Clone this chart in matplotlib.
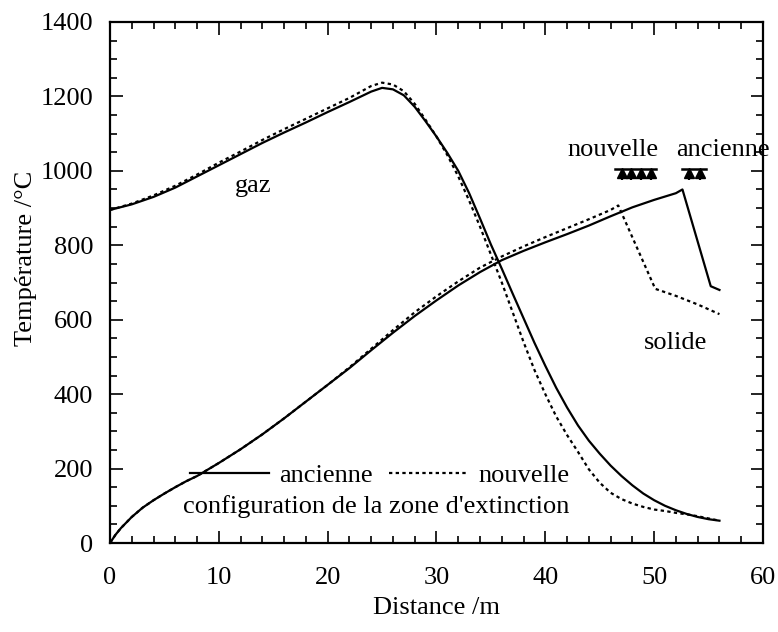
import matplotlib
matplotlib.use("Agg")
import matplotlib.pyplot as plt
from matplotlib.ticker import MultipleLocator

plt.rcParams['font.family'] = ['Liberation Serif', 'DejaVu Serif']

# gas temperature, old configuration (solid)
gas_old_x = [0, 2, 4, 6, 8, 10, 12, 14, 16, 18, 20, 22, 23, 24, 25, 26, 27, 28, 29, 30,
             31, 32, 33, 34, 35, 36, 37, 38, 39, 40, 41, 42, 43, 44, 45, 46, 47, 48,
             49, 50, 51, 52, 53, 54, 55, 56]
gas_old_y = [895, 910, 930, 955, 985, 1015, 1045, 1075, 1103, 1130, 1158, 1185, 1199,
             1213, 1223, 1219, 1203, 1172, 1133, 1092, 1048, 1000, 940, 872, 802, 737,
             670, 604, 538, 476, 417, 364, 316, 275, 240, 208, 180, 155, 133, 115, 100,
             88, 78, 70, 64, 60]

# gas temperature, new configuration (dotted)
gas_new_x = [0, 2, 4, 6, 8, 10, 12, 14, 16, 18, 20, 22, 23, 24, 25, 26, 27, 28, 29, 30,
             31, 32, 33, 34, 35, 36, 37, 38, 39, 40, 41, 42, 43, 44, 45, 46, 47, 48,
             49, 50, 51, 52, 53, 54, 55, 56]
gas_new_y = [895, 912, 934, 960, 990, 1022, 1052, 1083, 1112, 1140, 1168, 1196, 1212,
             1228, 1237, 1232, 1214, 1180, 1137, 1092, 1042, 985, 920, 850, 775, 700,
             620, 540, 465, 400, 340, 290, 245, 198, 162, 135, 118, 106, 97, 90, 86,
             81, 77, 72, 66, 60]

# solid temperature, old configuration
sol_old_x = [0, 0.5, 1, 2, 3, 4, 5, 6, 7, 8, 10, 12, 14, 16, 18, 20, 22, 24, 26, 28,
             30, 32, 34, 36, 38, 40, 42, 44, 46, 48, 50, 52, 52.6, 55.2, 56]
sol_old_y = [0, 22, 40, 70, 95, 115, 133, 150, 166, 180, 215, 252, 292, 335, 380, 425,
             470, 518, 565, 610, 652, 692, 728, 760, 785, 808, 830, 853, 878, 902, 922,
             940, 950, 690, 680]

# solid temperature, new configuration
sol_new_x = [0, 0.5, 1, 2, 3, 4, 5, 6, 7, 8, 10, 12, 14, 16, 18, 20, 22, 24, 26, 28,
             30, 32, 34, 36, 38, 40, 42, 44, 46, 46.7, 50.1, 52, 54, 56]
sol_new_y = [0, 22, 40, 70, 95, 115, 133, 150, 166, 180, 215, 252, 292, 335, 380, 425,
             472, 522, 572, 620, 663, 703, 740, 770, 797, 822, 846, 870, 895, 907, 683,
             664, 641, 615]

# spray nozzle positions
spray_new_x = [47.0, 47.9, 48.8, 49.7]
spray_old_x = [53.2, 54.2]

fs = 19
fig, ax = plt.subplots(figsize=(7.78, 6.32), dpi=100)
fig.subplots_adjust(left=0.1414, right=0.9807, bottom=0.1408, top=0.9652)

dot = (0, (1.5, 1.5))
l_old, = ax.plot(gas_old_x, gas_old_y, color='black', lw=1.6, label='ancienne')
l_new, = ax.plot(gas_new_x, gas_new_y, color='black', lw=1.6, ls=dot, label='nouvelle')
ax.plot(sol_old_x, sol_old_y, color='black', lw=1.6)
ax.plot(sol_new_x, sol_new_y, color='black', lw=1.6, ls=dot)

# spray bars
ax.plot([spray_new_x[0] - 0.6, spray_new_x[-1] + 0.5], [1005, 1005], color='black', lw=1.8)
ax.plot([spray_old_x[0] - 0.6, spray_old_x[-1] + 0.6], [1005, 1005], color='black', lw=1.8)
for xs in [spray_new_x, spray_old_x]:
    ax.vlines(xs, 975, 1000, color='black', lw=1.6)
    ax.plot(xs, [993] * len(xs), ls='none', marker='^', color='black', markersize=7)

ax.text(46.2, 1055, 'nouvelle', fontsize=fs, ha='center', va='center')
ax.text(56.3, 1055, 'ancienne', fontsize=fs, ha='center', va='center')
ax.text(13.2, 960, 'gaz', fontsize=fs, ha='center', va='center')
ax.text(52.0, 537, 'solide', fontsize=fs, ha='center', va='center')

ax.legend(handles=[l_old, l_new], ncol=2, loc='center', bbox_to_anchor=(0.413, 0.130),
          frameon=False, fontsize=fs, handlelength=3.0, handletextpad=0.4,
          columnspacing=0.6, borderpad=0)
ax.text(0.408, 0.070, "configuration de la zone d'extinction", fontsize=fs,
        ha='center', va='center', transform=ax.transAxes)

ax.set_xlim(0, 60)
ax.set_ylim(0, 1400)
ax.xaxis.set_major_locator(MultipleLocator(10))
ax.xaxis.set_minor_locator(MultipleLocator(2))
ax.yaxis.set_major_locator(MultipleLocator(200))
ax.yaxis.set_minor_locator(MultipleLocator(50))
ax.tick_params(which='both', direction='in', top=True, right=True, labelsize=fs, width=1.2)
ax.tick_params(which='major', length=9)
ax.tick_params(which='minor', length=5)
ax.tick_params(axis='x', which='major', pad=17)
ax.tick_params(axis='y', which='major', pad=12)
for sp in ax.spines.values():
    sp.set_linewidth(1.6)

ax.set_xlabel('Distance /m', fontsize=fs)
ax.set_ylabel('Température /°C', fontsize=fs)
ax.yaxis.set_label_coords(-0.112, 0.547)
ax.xaxis.set_label_coords(0.5, -0.104)

plt.savefig('out.png', dpi=100)
